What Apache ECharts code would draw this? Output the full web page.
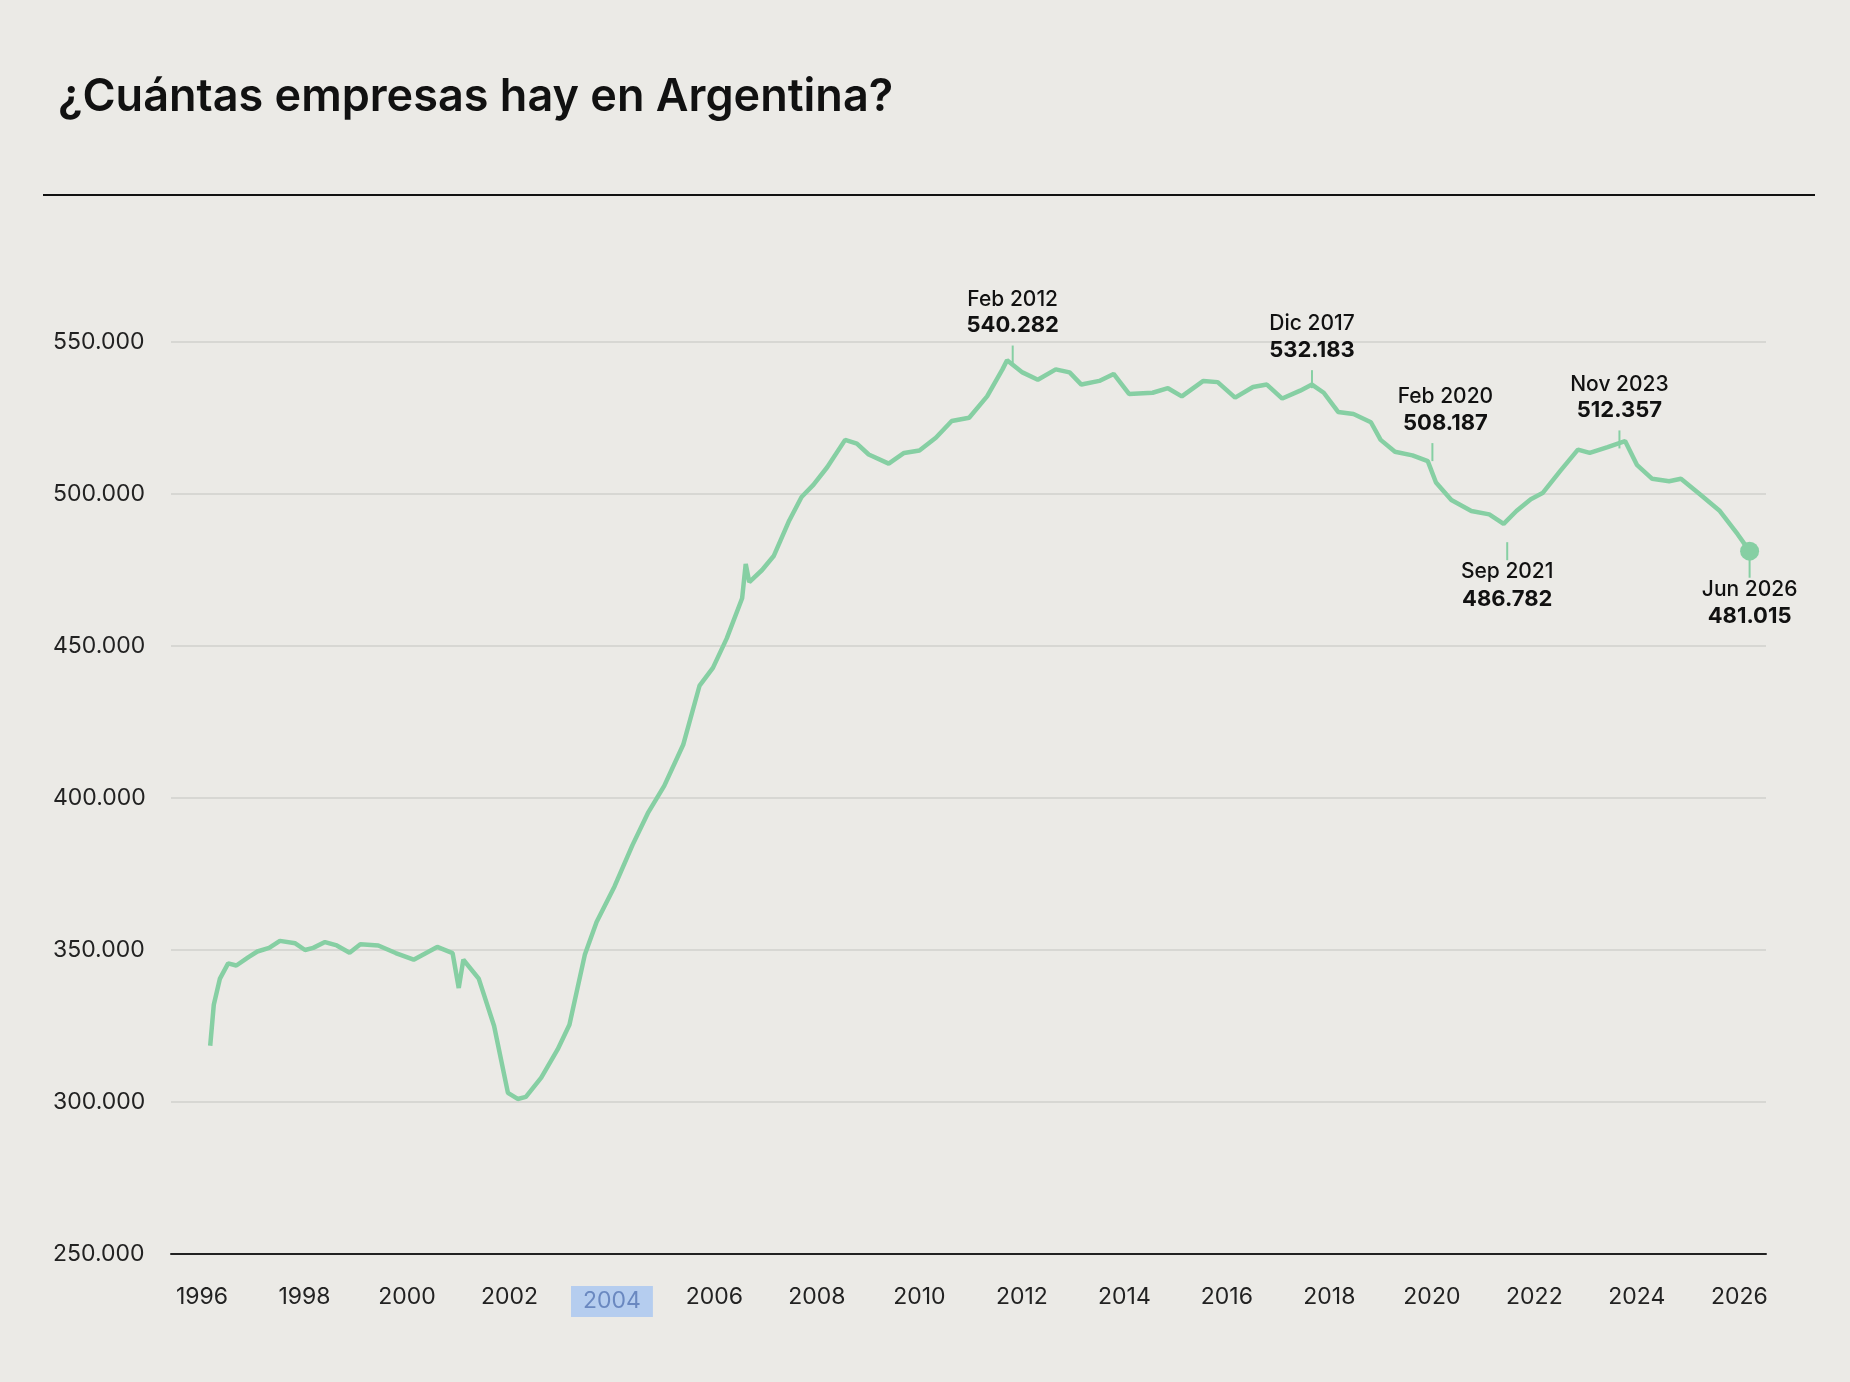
<!DOCTYPE html>
<html><head><meta charset="utf-8">
<script src="https://cdn.jsdelivr.net/npm/echarts@6/dist/echarts.min.js"></script>
<style>html,body{margin:0;padding:0;background:#ebeae6;}#c{width:1850px;height:1382px;}</style>
</head><body><div id="c"></div>
<script>
const periods = [1996.16,1996.23,1996.35,1996.51,1996.67,1996.90,1997.08,1997.31,1997.52,1997.82,1998.01,1998.17,1998.40,1998.63,1998.88,1999.09,1999.44,1999.78,2000.13,2000.59,2000.89,2001.01,2001.10,2001.40,2001.70,2001.97,2002.16,2002.32,2002.62,2002.94,2003.17,2003.47,2003.70,2004.05,2004.40,2004.70,2005.02,2005.39,2005.71,2005.97,2006.24,2006.54,2006.61,2006.68,2006.93,2007.16,2007.46,2007.70,2007.93,2008.20,2008.55,2008.78,2009.01,2009.40,2009.70,2010.00,2010.32,2010.63,2010.97,2011.32,2011.62,2011.71,2012.01,2012.31,2012.66,2012.93,2013.16,2013.51,2013.79,2014.09,2014.55,2014.85,2015.12,2015.54,2015.82,2016.16,2016.51,2016.78,2017.08,2017.43,2017.66,2017.89,2018.17,2018.47,2018.81,2019.00,2019.28,2019.62,2019.92,2020.08,2020.38,2020.77,2021.12,2021.40,2021.65,2021.93,2022.16,2022.51,2022.85,2023.08,2023.43,2023.77,2024.00,2024.30,2024.63,2024.86,2025.23,2025.62,2025.97,2026.20];
const companies = [318500,332000,340600,345600,344900,347600,349500,350700,353000,352200,350000,350700,352600,351500,349100,351900,351500,349000,346800,351000,349000,337500,346800,340600,325000,303000,301000,301700,308000,317300,325400,348400,359200,370900,384500,395000,404000,417500,437000,442800,452500,465700,477000,471000,475000,479700,491300,499000,503000,508800,517800,516600,513000,510000,513500,514300,518500,524000,525100,532100,541000,544000,540000,537600,541000,540000,536000,537200,539500,532900,533300,534800,532100,537200,536800,531700,535200,536000,531400,534000,536000,533300,527000,526300,523600,517800,513900,512700,510800,503800,498000,494400,493300,490200,494400,498300,500300,507700,514600,513500,515400,517400,509600,505000,504200,505000,499900,494400,486700,481200];
const yearTicks = [1996,1998,2000,2002,2004,2006,2008,2010,2012,2014,2016,2018,2020,2022,2024,2026];
const yTicks = [250000,300000,350000,400000,450000,500000,550000];
const annYears = [2011.82,2017.66,2020.01,2023.66,2021.47,2026.2];
const annValues = [540282,532183,508187,512357,486782,481015];
const annDates = ['Feb 2012','Dic 2017','Feb 2020','Nov 2023','Sep 2021','Jun 2026'];
const annSide = ['up','up','up','up','down','down'];
const annDx = [0,0,13,0,0,0];

const fmt = v => v.toLocaleString('de-DE');
const green = '#86cfa3';
const chart = echarts.init(document.getElementById('c'));
chart.setOption({
  backgroundColor:'#ebeae6',
  animation:false,
  textStyle:{fontFamily:'Inter'},
  title:{text:'¿Cuántas empresas hay en Argentina?',left:53,top:70,textStyle:{fontSize:45,fontWeight:600,color:'#111',fontFamily:'Inter'}},
  grid:{left:171,right:84,top:342,bottom:128},
  xAxis:{type:'value',min:1995.395,max:2026.52,
    axisLine:{show:true,lineStyle:{color:'#222',width:2}},
    axisTick:{show:false},splitLine:{show:false},
    axisLabel:{customValues:yearTicks,margin:32,fontSize:23,color:'#222',
      formatter:v=>v===2004?'{hl|2004}':String(v),
      rich:{hl:{backgroundColor:'#b5cdef',padding:[4,12],fontSize:23,color:'#6a88c0'}}}},
  yAxis:{type:'value',min:250000,max:550000,interval:50000,
    axisLine:{show:false},axisTick:{show:false},
    splitLine:{lineStyle:{color:'#d0d0cc',width:1.5}},
    axisLabel:{formatter:v=>fmt(v),align:'left',margin:118,fontSize:23,color:'#222',padding:[0,0,14,0]}},
  series:[{type:'line',data:periods.map((p,i)=>[p,companies[i]]),showSymbol:false,
    lineStyle:{color:green,width:4.5},itemStyle:{color:green},
    markPoint:{symbol:'circle',symbolSize:19,itemStyle:{color:green},label:{show:false},
      data:[{coord:[periods[periods.length-1],companies[companies.length-1]]}]}}]
});
const g=[];
annYears.forEach((yr,i)=>{
  const [px,py]=chart.convertToPixel({gridIndex:0},[yr,annValues[i]]);
  const up=annSide[i]==='up';
  const s=up?-1:1;
  g.push({type:'line',shape:{x1:px,y1:py+s*8,x2:px,y2:py+s*26},style:{stroke:green,lineWidth:2}});
  const tx=px+annDx[i];
  const dY=up?py-72:py+38, vY=up?py-46:py+65;
  g.push({type:'text',x:tx,y:dY,style:{text:annDates[i],font:'500 21px Inter',fill:'#111',align:'center',verticalAlign:'middle'}});
  g.push({type:'text',x:tx,y:vY,style:{text:fmt(annValues[i]),font:'700 22px Inter',fill:'#111',align:'center',verticalAlign:'middle'}});
});
g.push({type:'line',shape:{x1:43,y1:195,x2:1815,y2:195},style:{stroke:'#111',lineWidth:2}});
chart.setOption({graphic:g});
</script></body></html>
